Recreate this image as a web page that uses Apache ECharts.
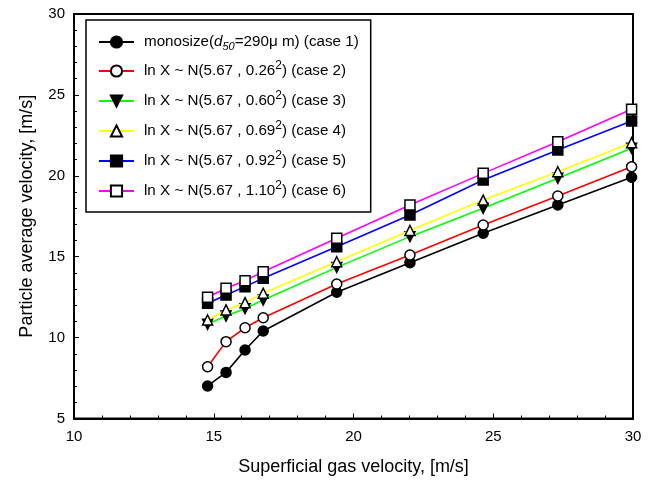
<!DOCTYPE html>
<html>
<head>
<meta charset="utf-8">
<script src="https://cdn.jsdelivr.net/npm/echarts@6/dist/echarts.min.js"></script>
<style>
html,body{margin:0;padding:0;background:#fff;}
#c{width:653px;height:483px;}
</style>
</head>
<body>
<div id="c"></div>
<script>
const xVals = [14.78, 15.44, 16.12, 16.77, 19.40, 22.02, 24.64, 27.31, 29.95];
const case1 = [7.01, 7.85, 9.23, 10.41, 12.80, 14.63, 16.45, 18.20, 19.91];
const case2 = [8.20, 9.75, 10.61, 11.23, 13.31, 15.10, 16.96, 18.75, 20.56];
const case3 = [10.82, 11.33, 11.79, 12.32, 14.34, 16.24, 17.99, 19.85, 21.70];
const case4 = [11.09, 11.71, 12.16, 12.74, 14.69, 16.62, 18.50, 20.25, 22.05];
const case5 = [12.12, 12.63, 13.15, 13.67, 15.62, 17.58, 19.74, 21.59, 23.39];
const case6 = [12.49, 13.05, 13.52, 14.07, 16.14, 18.20, 20.15, 22.11, 24.11];

const seriesNames = ['case 1', 'case 2', 'case 3', 'case 4', 'case 5', 'case 6'];
const legendTexts = [
  '{t|monosize(}{it|d}{sub|50}{t|=290μ m) (case 1)}',
  '{t|ln X ~ N(5.67 , 0.26}{sup|2}{t|) (case 2)}',
  '{t|ln X ~ N(5.67 , 0.60}{sup|2}{t|) (case 3)}',
  '{t|ln X ~ N(5.67 , 0.69}{sup|2}{t|) (case 4)}',
  '{t|ln X ~ N(5.67 , 0.92}{sup|2}{t|) (case 5)}',
  '{t|ln X ~ N(5.67 , 1.10}{sup|2}{t|) (case 6)}'
];
const lineColors = ['#000000', '#ff0000', '#00ff00', '#ffff00', '#0000ff', '#ff00ff'];
const symbols = ['circle', 'circle', 'triangle', 'triangle', 'rect', 'rect'];
const symbolRot = [0, 0, 180, 0, 0, 0];
const fills = ['#000000', '#ffffff', '#000000', '#ffffff', '#000000', '#ffffff'];
const allData = [case1, case2, case3, case4, case5, case6];

const FONT = '"Liberation Sans", Arial, sans-serif';

const series = allData.map((d, i) => ({
  name: seriesNames[i],
  type: 'line',
  data: xVals.map((x, j) => [x, d[j]]),
  symbol: symbols[i],
  symbolRotate: symbolRot[i],
  symbolSize: 10,
  showAllSymbol: true,
  lineStyle: { color: lineColors[i], width: 1.6 },
  itemStyle: { color: fills[i], borderColor: '#000', borderWidth: 1.5 },
  emphasis: { disabled: true },
  z: 2 + i
}));

const chart = echarts.init(document.getElementById('c'), null, { renderer: 'canvas' });
chart.setOption({
  animation: false,
  backgroundColor: '#fff',
  textStyle: { fontFamily: FONT },
  grid: { left: 74, top: 14, right: 20, bottom: 64.5, show: true, borderColor: '#000', borderWidth: 2, backgroundColor: 'transparent' },
  legend: {
    data: seriesNames,
    orient: 'vertical',
    left: 86, top: 20,
    padding: [12, 12, 10, 12],
    itemWidth: 35, itemHeight: 14,
    itemGap: 8,
    borderColor: '#000', borderWidth: 1.5,
    backgroundColor: '#fff',
    selectedMode: false,
    formatter: (n) => legendTexts[seriesNames.indexOf(n)],
    textStyle: {
      fontFamily: FONT, color: '#000', fontSize: 15.2,
      padding: [0, 0, 0, 5],
      rich: {
        t: { fontSize: 15.2, fontFamily: FONT, color: '#000', lineHeight: 21 },
        it: { fontSize: 15.2, fontFamily: FONT, fontStyle: 'italic', color: '#000', lineHeight: 21 },
        sub: { fontSize: 11, fontFamily: FONT, fontStyle: 'italic', color: '#000', lineHeight: 11, padding: [9, 0, 0, 0] },
        sup: { fontSize: 12, fontFamily: FONT, color: '#000', lineHeight: 11, padding: [0, 0, 10, 0] }
      }
    }
  },
  xAxis: {
    type: 'value', min: 10, max: 30, interval: 5,
    name: 'Superficial gas velocity, [m/s]',
    nameLocation: 'middle', nameGap: 40,
    nameTextStyle: { fontSize: 18, color: '#000', fontFamily: FONT },
    axisLine: { show: true, lineStyle: { color: '#000', width: 2 } },
    axisTick: { show: true, inside: true, length: 5, lineStyle: { color: '#000', width: 1 } },
    minorTick: { show: true, splitNumber: 5, length: 3, lineStyle: { color: '#000', width: 1 } },
    splitLine: { show: false },
    axisLabel: { fontSize: 15, color: '#000', fontFamily: FONT, margin: 11 }
  },
  yAxis: {
    type: 'value', min: 5, max: 30, interval: 5,
    name: 'Particle average velocity, [m/s]',
    nameLocation: 'middle', nameGap: 38,
    nameTextStyle: { fontSize: 18, color: '#000', fontFamily: FONT },
    axisLine: { show: true, lineStyle: { color: '#000', width: 2 } },
    axisTick: { show: true, inside: true, length: 5, lineStyle: { color: '#000', width: 1 } },
    minorTick: { show: true, splitNumber: 5, length: 3, lineStyle: { color: '#000', width: 1 } },
    splitLine: { show: false },
    axisLabel: { fontSize: 15, color: '#000', fontFamily: FONT, margin: 9 }
  },
  series: series
});
</script>
</body>
</html>
